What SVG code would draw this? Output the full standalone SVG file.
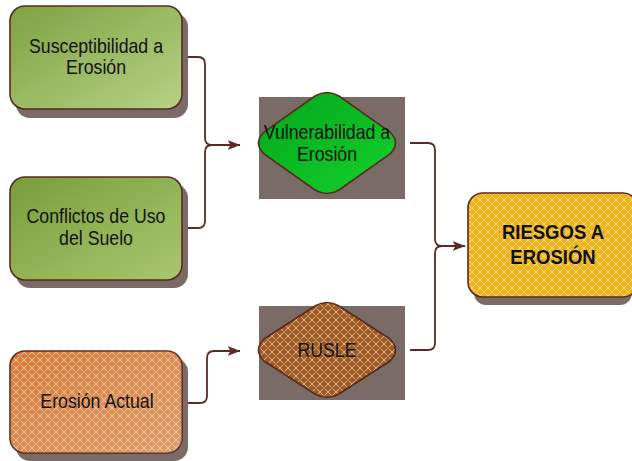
<svg xmlns="http://www.w3.org/2000/svg" width="632" height="461" viewBox="0 0 632 461">
<style>
.box{stroke:#5a2a1e;stroke-width:1.6}
.sh{fill:#7b6b67}
.con{fill:none;stroke:#5c2a22;stroke-width:1.8}
.t{font-family:"Liberation Sans",Arial,sans-serif;font-size:20.5px;fill:#111;text-anchor:middle}
.b{font-weight:bold;font-size:19.5px}
</style>
<defs>
<linearGradient id="g1" x1="0" y1="0" x2="1" y2="1">
<stop offset="0" stop-color="#7ea242"/><stop offset="1" stop-color="#b6d184"/>
</linearGradient>
<linearGradient id="g2" x1="0" y1="0" x2="1" y2="1">
<stop offset="0" stop-color="#789d3a"/><stop offset="1" stop-color="#a9c76e"/>
</linearGradient>
<linearGradient id="g3" x1="0" y1="0" x2="1" y2="1">
<stop offset="0" stop-color="#02a51c"/><stop offset="1" stop-color="#14d22a"/>
</linearGradient>
<linearGradient id="lite" x1="0" y1="0" x2="1" y2="1">
<stop offset="0" stop-color="#fff" stop-opacity="0"/><stop offset="1" stop-color="#fff" stop-opacity="0.25"/>
</linearGradient>
<pattern id="pOr" width="8" height="8" patternUnits="userSpaceOnUse">
<rect width="8" height="8" fill="#d8803c"/>
<path d="M0 0L8 8M8 0L0 8" stroke="#f6d2b0" stroke-width="0.9" stroke-opacity="0.8"/>
<path d="M4 0V8M0 4H8" stroke="#c4692a" stroke-width="0.8" stroke-opacity="0.6"/>
</pattern>
<pattern id="pBr" width="8" height="8" patternUnits="userSpaceOnUse">
<rect width="8" height="8" fill="#a35e26"/>
<path d="M0 0L8 8M8 0L0 8" stroke="#e8cdb0" stroke-width="0.9" stroke-opacity="0.85"/>
<path d="M4 0V8M0 4H8" stroke="#8a4a1a" stroke-width="0.8" stroke-opacity="0.6"/>
</pattern>
<pattern id="pYe" width="8" height="8" patternUnits="userSpaceOnUse">
<rect width="8" height="8" fill="#efb61e"/>
<path d="M0 0L8 8M8 0L0 8" stroke="#fbe59a" stroke-width="0.9" stroke-opacity="0.85"/>
<path d="M4 0V8M0 4H8" stroke="#e0a010" stroke-width="0.8" stroke-opacity="0.6"/>
</pattern>
<marker id="arr" viewBox="0 0 13 10" refX="12.5" refY="5" markerWidth="13" markerHeight="10" orient="auto" markerUnits="userSpaceOnUse">
<path d="M0 0L13 5L0 10L3 5Z" fill="#5c2a22"/>
</marker>
</defs>

<g id="connectors">
<path class="con" d="M182 57H198Q205 57 205 64V138Q205 145 212 145H240" marker-end="url(#arr)"/>
<path class="con" d="M182 228H198Q205 228 205 221V152Q205 145 212 145H228"/>
<path class="con" d="M182 403H200Q207 403 207 396V358Q207 351 214 351H240" marker-end="url(#arr)"/>
<path class="con" d="M410 143H428Q435 143 435 150V239Q435 246 442 246H465" marker-end="url(#arr)"/>
<path class="con" d="M410 350H428Q435 350 435 343V253Q435 246 442 246H455"/>
</g>

<g id="susceptibilidad">
<rect class="sh" x="16" y="13" width="172" height="105" rx="14"/>
<rect class="box" x="10" y="6" width="172" height="103" rx="15" fill="url(#g1)"/>
<text class="t" transform="translate(96 53) scale(0.865 1)">Susceptibilidad a</text>
<text class="t" transform="translate(96 74) scale(0.865 1)">Erosión</text>
</g>

<g id="conflictos">
<rect class="sh" x="16" y="184" width="172" height="104" rx="14"/>
<rect class="box" x="10" y="177" width="172" height="103" rx="15" fill="url(#g2)"/>
<text class="t" transform="translate(96 223) scale(0.865 1)">Conflictos de Uso</text>
<text class="t" transform="translate(96 245) scale(0.865 1)">del Suelo</text>
</g>

<g id="erosion-actual">
<rect class="sh" x="16" y="358" width="172" height="103" rx="14"/>
<rect class="box" x="10" y="351" width="172" height="102" rx="15" fill="url(#pOr)"/>
<rect x="10" y="351" width="172" height="102" rx="15" fill="url(#lite)"/>
<text class="t" transform="translate(97 408) scale(0.865 1)">Erosión Actual</text>
</g>

<g id="vulnerabilidad">
<rect class="sh" x="259" y="97" width="146" height="102"/>
<path class="box" fill="url(#g3)" d="M315 96Q327 89 339 96L390 132Q401 143 390 154L339 190Q327 197 315 190L264 154Q253 143 264 132Z"/>
<text class="t" transform="translate(327 139) scale(0.865 1)">Vulnerabilidad a</text>
<text class="t" transform="translate(327 161) scale(0.865 1)">Erosión</text>
</g>

<g id="rusle">
<rect class="sh" x="259" y="306" width="146" height="94"/>
<path class="box" fill="url(#pBr)" d="M315 306Q327 299 339 306L390 339Q401 350 390 361L339 394Q327 401 315 394L264 361Q253 350 264 339Z"/>
<text class="t" transform="translate(327 357) scale(0.865 1)">RUSLE</text>
</g>

<g id="riesgos">
<rect class="sh" x="474" y="200" width="158" height="105" rx="12"/>
<rect class="box" x="468" y="193" width="170" height="104" rx="15" fill="url(#pYe)"/>
<text class="t b" transform="translate(553 239) scale(0.95 1)">RIESGOS A</text>
<text class="t b" transform="translate(553 264) scale(0.95 1)">EROSIÓN</text>
</g>
</svg>
